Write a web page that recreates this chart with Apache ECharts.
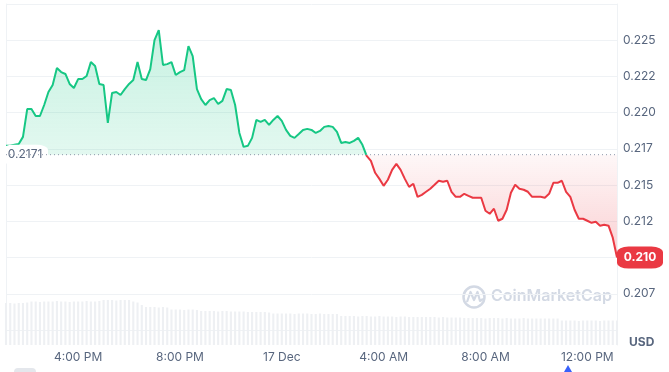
<!DOCTYPE html>
<html>
<head>
<meta charset="utf-8">
<script src="https://cdn.jsdelivr.net/npm/echarts@6/dist/echarts.min.js"></script>
<style>
  html, body { margin: 0; padding: 0; background: #ffffff; }
  #chart { width: 669px; height: 372px; }
</style>
</head>
<body>
<div id="chart"></div>
<script>
// ---- data ----
const startMinute = 13 * 60 + 10;   // 16 Dec, 13:10
const stepMinutes = 10;
const baseline = 0.2171;

const prices = [
  0.21771, 0.21771, 0.21778, 0.21784, 0.21833, 0.22025, 0.22025, 0.21977, 0.21977, 0.22053,
  0.22143, 0.22191, 0.22308, 0.22280, 0.22267, 0.22198, 0.22170, 0.22232, 0.22232, 0.22253,
  0.22349, 0.22322, 0.22198, 0.22191, 0.21929, 0.22136, 0.22143, 0.22122, 0.22163, 0.22198,
  0.22225, 0.22349, 0.22232, 0.22225, 0.22301, 0.22501, 0.22570, 0.22329, 0.22335, 0.22349,
  0.22260, 0.22280, 0.22294, 0.22459, 0.22390, 0.22163, 0.22094, 0.22053, 0.22087, 0.22101,
  0.22060, 0.22081, 0.22163, 0.22156, 0.22053, 0.21860, 0.21764, 0.21771, 0.21826, 0.21950,
  0.21936, 0.21950, 0.21915, 0.21950, 0.21977, 0.21943, 0.21881, 0.21840, 0.21826, 0.21853,
  0.21881, 0.21888, 0.21881, 0.21860, 0.21874, 0.21902, 0.21908, 0.21902, 0.21867, 0.21791,
  0.21798, 0.21791, 0.21805, 0.21826, 0.21778, 0.21702, 0.21667, 0.21585, 0.21543, 0.21495,
  0.21537, 0.21605, 0.21647, 0.21605, 0.21543, 0.21488, 0.21509, 0.21419, 0.21433, 0.21454,
  0.21475, 0.21502, 0.21530, 0.21523, 0.21530, 0.21454, 0.21419, 0.21419, 0.21440, 0.21426,
  0.21413, 0.21413, 0.21413, 0.21323, 0.21302, 0.21337, 0.21254, 0.21268, 0.21330, 0.21447,
  0.21502, 0.21475, 0.21468, 0.21454, 0.21419, 0.21419, 0.21419, 0.21413, 0.21440, 0.21516,
  0.21516, 0.21530, 0.21454, 0.21419, 0.21330, 0.21268, 0.21268, 0.21254, 0.21240, 0.21247,
  0.21220, 0.21227, 0.21220, 0.21137, 0.21000
];

const volumes = [
  84, 84, 83, 84, 84, 85,
  87, 87, 86, 87, 87, 87, 88, 87, 87, 86, 87, 87, 87, 88, 87, 87, 88,
  90, 90, 90, 89, 90, 90, 90,
  87, 85,
  80,
  76, 76, 76, 75, 76, 75,
  71, 71, 71, 70, 71, 71, 70,
  68, 68, 68, 68, 67, 68, 68, 67, 67, 67, 67, 66, 66, 66, 66, 66, 65,
  63, 63, 63, 63, 63, 62, 63, 63, 63, 62, 62, 63, 62, 62, 62, 62,
  58, 58, 58, 58, 57, 58, 58, 57, 57, 58, 57, 57, 57, 56, 57, 57, 56, 56, 56, 56, 56, 56, 56, 55, 56, 55, 55, 55, 55,
  54, 54, 54, 54, 54, 53, 54, 54, 54, 53, 54, 53, 53, 53, 54, 53, 53, 53, 53, 53, 53, 53, 53,
  49, 49, 49, 49, 48, 49, 49, 49, 49, 48, 49, 49, 49, 49
];

const yTickMin = 0.2050, yTickMax = 0.2275, yTickStep = 0.0025;

// category labels = minutes since 16 Dec 00:00
const categories = prices.map((_, i) => startMinute + i * stepMinutes);

function timeLabel(m) {
  const mod = m % 1440;
  if (mod === 0) return '17 Dec';
  const h = Math.floor(mod / 60), mm = mod % 60;
  const h12 = h % 12 === 0 ? 12 : h % 12;
  return h12 + ':' + String(mm).padStart(2, '0') + (h < 12 ? ' AM' : ' PM');
}
function isMajor(m) { return m % 240 === 0; }

const GREEN = '#16c784', RED = '#ea3943', TXT = '#58667e', GRIDC = '#eff2f5';
const baseFlat = prices.map(() => baseline);
const upExcess = prices.map(v => Math.max(v, baseline) - baseline);
const downFloor = prices.map(v => Math.min(v, baseline));
const downGap = prices.map(v => baseline - Math.min(v, baseline));
const lastIdx = prices.length - 1;
const last = prices[lastIdx];

const chart = echarts.init(document.getElementById('chart'), null, { renderer: 'canvas' });
chart.setOption({
  animation: false,
  textStyle: { fontFamily: 'Inter, Roboto, sans-serif' },
  grid: [
    { left: 6, right: 52, top: 4, bottom: 42 },
    { left: 6, right: 52, top: 295, bottom: 27 }
  ],
  xAxis: [
    { type: 'category', gridIndex: 0, data: categories, boundaryGap: false,
      axisLine: { show: false }, axisTick: { show: false }, axisLabel: { show: false }, splitLine: { show: false } },
    { type: 'category', gridIndex: 1, data: categories, boundaryGap: false,
      axisLine: { show: false }, axisTick: { show: false }, splitLine: { show: false },
      axisLabel: { color: TXT, fontSize: 12, margin: 6, interval: (idx, val) => isMajor(+val),
                   formatter: v => timeLabel(+v) } }
  ],
  yAxis: [
    { type: 'value', gridIndex: 0, position: 'right', min: yTickMin, max: yTickMax, interval: yTickStep,
      axisLine: { show: true, lineStyle: { color: GRIDC } }, axisTick: { show: false },
      splitLine: { show: true, lineStyle: { color: GRIDC } },
      axisLabel: { color: TXT, fontSize: 12, margin: 6, showMinLabel: false, showMaxLabel: false,
                   formatter: v => (Math.floor(v * 1000 + 1e-6) / 1000).toFixed(3) } },
    { type: 'value', gridIndex: 1, position: 'right', min: 0, max: 100,
      axisLine: { show: true, lineStyle: { color: GRIDC } }, axisTick: { show: false },
      axisLabel: { show: false }, splitLine: { show: false } },
    { type: 'value', gridIndex: 0, position: 'left', min: yTickMin, max: yTickMax, interval: yTickStep,
      axisLine: { show: true, lineStyle: { color: GRIDC } }, axisTick: { show: false },
      axisLabel: { show: false }, splitLine: { show: false } }
  ],
  series: [
    { type: 'line', name: 'price', xAxisIndex: 0, yAxisIndex: 0, data: prices, symbol: 'none',
      lineStyle: { width: 2, color: GREEN }, z: 4 },
    { type: 'line', name: 'upBase', stack: 'up', xAxisIndex: 0, yAxisIndex: 0, data: baseFlat, symbol: 'none',
      silent: true, z: 1, lineStyle: { width: 0, opacity: 0 } },
    { type: 'line', name: 'up', stack: 'up', xAxisIndex: 0, yAxisIndex: 0, data: upExcess, symbol: 'none',
      silent: true, z: 1, lineStyle: { width: 0, opacity: 0 },
      areaStyle: { opacity: 1,
        color: new echarts.graphic.LinearGradient(0, 0, 0, 1, [
          { offset: 0, color: 'rgba(22,199,132,0.24)' }, { offset: 1, color: 'rgba(22,199,132,0.12)' }]) } },
    { type: 'line', name: 'downBase', stack: 'down', xAxisIndex: 0, yAxisIndex: 0, data: downFloor, symbol: 'none',
      silent: true, z: 1, lineStyle: { width: 0, opacity: 0 } },
    { type: 'line', name: 'down', stack: 'down', xAxisIndex: 0, yAxisIndex: 0, data: downGap, symbol: 'none',
      silent: true, z: 1, lineStyle: { width: 0, opacity: 0 },
      areaStyle: { opacity: 1,
        color: new echarts.graphic.LinearGradient(0, 0, 0, 1, [
          { offset: 0, color: 'rgba(234,57,67,0.04)' }, { offset: 1, color: 'rgba(234,57,67,0.24)' }]) } },
    { type: 'line', name: 'marks', xAxisIndex: 0, yAxisIndex: 0, data: baseFlat, symbol: 'none', silent: true, z: 5,
      lineStyle: { width: 1, type: [1, 3], color: '#8d96a8' },
      markPoint: {
        silent: true,
        data: [
          { coord: [0, baseline], symbol: 'roundRect', symbolSize: [46, 20], symbolOffset: [19, 0],
            itemStyle: { color: '#ffffff' },
            label: { show: true, position: 'inside', formatter: () => baseline.toFixed(4),
                     color: TXT, fontSize: 12 } },
          { coord: [lastIdx, last], symbol: 'roundRect', symbolSize: [46, 22], symbolOffset: [23, 0],
            itemStyle: { color: RED },
            label: { show: true, position: 'inside', formatter: () => last.toFixed(3),
                     color: '#ffffff', fontWeight: 'bold', fontSize: 12 } }
        ]
      } },
    { type: 'bar', name: 'volume', xAxisIndex: 1, yAxisIndex: 1, data: volumes, barWidth: '50%',
      itemStyle: { color: '#eef0f3' }, silent: true, z: 0 }
  ],
  graphic: [
    { type: 'circle', shape: { cx: 474, cy: 297, r: 10.5 }, style: { fill: 'none', stroke: '#d3d9e4', lineWidth: 2.5 }, silent: true },
    { type: 'polyline', shape: { points: [[467, 302], [470.5, 292], [474, 300], [477.5, 292], [480, 301], [483, 299]] },
      style: { fill: 'none', stroke: '#d3d9e4', lineWidth: 2.2, lineJoin: 'round' }, silent: true },
    { type: 'text', left: 491, top: 288, silent: true,
      style: { text: 'CoinMarketCap', fill: '#d3d9e4', font: '600 16px Inter, sans-serif' } },
    { type: 'text', left: 629, top: 336, silent: true,
      style: { text: 'USD', fill: TXT, font: 'bold 12px Inter, sans-serif' } },
    { type: 'rect', shape: { x: 14, y: 368, width: 22, height: 10, r: 4 }, style: { fill: '#e4e7ec' }, silent: true },
    { type: 'polygon', shape: { points: [[564, 372], [568, 365], [572, 372]] }, style: { fill: '#3861fb' }, silent: true }
  ]
});
// colour the price line green above the baseline and red below it
const bPx = chart.convertToPixel({ yAxisIndex: 0 }, baseline);
const H = chart.getHeight();
chart.setOption({ series: [{ name: 'price', lineStyle: { color: new echarts.graphic.LinearGradient(0, 0, 0, H, [
  { offset: 0, color: GREEN }, { offset: bPx / H, color: GREEN },
  { offset: bPx / H, color: RED }, { offset: 1, color: RED }], true) } }] });
</script>
</body>
</html>
